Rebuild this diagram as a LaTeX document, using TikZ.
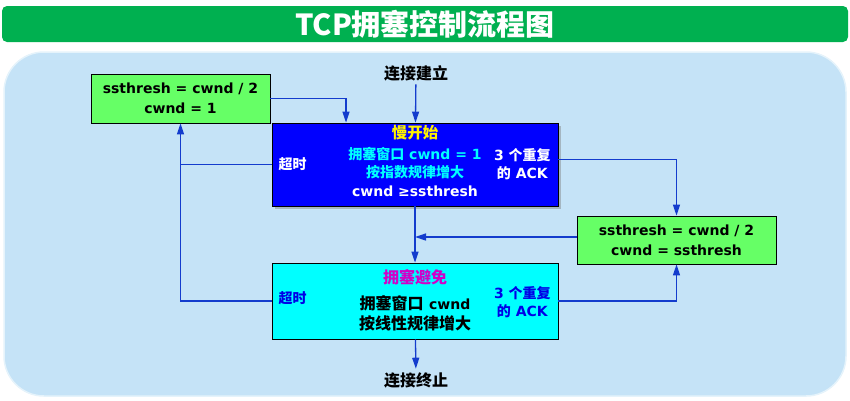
\documentclass[tikz,border=0pt]{standalone}
\usepackage{fontspec}
\setmainfont{DejaVu Sans}
\newfontfamily\zhfont{Noto Sans CJK SC}
\newcommand{\zh}[1]{{\zhfont #1}}
\usetikzlibrary{arrows.meta,positioning,calc,shadows}
\definecolor{TitleGreen}{RGB}{0,176,80}
\definecolor{PanelBlue}{RGB}{197,227,247}
\definecolor{SetGreen}{RGB}{102,255,102}
\definecolor{SlowBlue}{RGB}{0,0,255}
\definecolor{AvoidCyan}{RGB}{0,255,255}
\definecolor{LineBlue}{RGB}{20,60,205}
\definecolor{LabelPink}{RGB}{210,0,200}
\definecolor{LabelBlue}{RGB}{0,0,230}

\begin{document}
\begin{tikzpicture}[x=1pt,y=-1pt,
    setbox/.style={rectangle,draw=black,thick,fill=SetGreen,align=center,
                   font=\fontsize{14}{20}\selectfont\bfseries,inner sep=0pt},
    phase/.style={rectangle,draw=black,thick,minimum width=286pt,inner sep=0pt},
    side/.style={align=center,font=\fontsize{14}{18}\selectfont\bfseries},
    term/.style={font=\fontsize{16}{18}\selectfont\bfseries\zhfont},
    arr/.style={-{Triangle[length=11pt,width=7pt]},LineBlue,line width=1.3pt},
    ln/.style={LineBlue,line width=1.3pt}
  ]
  \useasboundingbox (0,0) rectangle (850,400);
  % title bar and panel
  \fill[TitleGreen,rounded corners=5pt] (2,6) rectangle (848,42);
  \node[text=white,font=\fontsize{29}{30}\selectfont\bfseries\zhfont] (title) at (425,24) {TCP拥塞控制流程图};
  \fill[PanelBlue,rounded corners=40pt] (4,52) rectangle (846,396);
  \draw[white!55!PanelBlue,line width=1.5pt,rounded corners=40pt] (4,52) rectangle (846,396);

  % boxes
  \node[setbox,minimum width=179pt,minimum height=49pt] (setA) at (180.5,98.5)
       {ssthresh = cwnd / 2\\cwnd = 1};
  \node[phase,fill=SlowBlue,minimum height=83pt,
        drop shadow={shadow xshift=3pt,shadow yshift=-3pt,opacity=.45}] (slow) at (415,164.5) {};
  \node[setbox,minimum width=199pt,minimum height=48pt] (setB) at (676.5,240)
       {ssthresh = cwnd / 2\\cwnd = ssthresh};
  \node[phase,fill=AvoidCyan,minimum height=76pt] (avoid) at (415,301) {};
  \node[term] (start) at (416,73) {连接建立};
  \node[term] (stop) at (416,380) {连接终止};

  % texts in the phases
  \node[term,text=yellow,font=\fontsize{15.5}{18}\selectfont\bfseries\zhfont] (slowname) at ([yshift=-10pt]slow.north) {慢开始};
  \node[align=center,font=\fontsize{14}{18.5}\selectfont\bfseries] (slowtext) at (415,171.5)
       {\textcolor{AvoidCyan}{\zh{拥塞窗口} cwnd = 1}\\
        \textcolor{AvoidCyan}{\zh{按指数规律增大}}\\
        \textcolor{white}{cwnd ≥ssthresh}};
  \node[side,text=white] (slowto) at ([xshift=21pt]slow.west) {\zh{超时}};
  \node[side,text=white] (slowack) at ([xshift=-36pt]slow.east) {3 \zh{个重复}\\\zh{的} ACK};

  \node[term,text=LabelPink] (avoidname) at ([yshift=-15pt]avoid.north) {拥塞避免};
  \node[align=center,font=\fontsize{16}{20}\selectfont\bfseries] (avoidtext) at (415,313)
       {\zh{拥塞窗口} {\fontsize{14}{20}\selectfont cwnd}\\\zh{按线性规律增大}};
  \node[side,text=LabelBlue] (avoidto) at ([xshift=21pt,yshift=3pt]avoid.west) {\zh{超时}};
  \node[side,text=LabelBlue] (avoidack) at ([xshift=-36pt,yshift=-1.5pt]avoid.east) {3 \zh{个重复}\\\zh{的} ACK};

  % connectors
  \coordinate (merge) at ([yshift=3pt]setB.west -| slow.south);
  \draw[arr] (setA.east) -| ([xshift=-69pt]slow.north);
  \draw[arr] (start) -- (slow);
  \draw[arr] ([yshift=5pt]slow.east) -| (setB.north);
  \draw[arr] (slow) -- (avoid);
  \draw[arr] ([yshift=3pt]setB.west) -- (merge);
  \draw[arr] (avoid.east) -| (setB.south);
  \draw[arr] (avoid.west) -| (setA.south);
  \draw[ln] (slow.west) -- (slow.west -| setA.south);
  \draw[arr] (avoid) -- (stop);
\end{tikzpicture}
\end{document}
